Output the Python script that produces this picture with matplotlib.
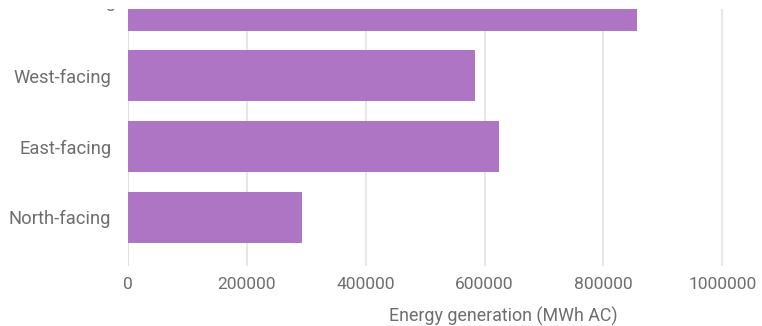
import matplotlib.pyplot as plt
from matplotlib.transforms import Bbox, TransformedBbox, blended_transform_factory

categories = ["North-facing", "East-facing", "West-facing", "South-facing"]
generation = [293000, 625000, 584000, 856000]
xticks = [0, 200000, 400000, 600000, 800000, 1000000]

bar_color = "#ae75c4"
text_color = "#6e6e6e"

plt.rcParams["font.family"] = ["Roboto", "DejaVu Sans"]

W, H = 762, 326
fig = plt.figure(figsize=(W / 100, H / 100), dpi=100)
ax = fig.add_axes([128 / W, 1 - 266 / H, 1 - 128 / W, (266 - 9) / H])

pos = list(range(len(categories)))
ax.barh(pos, generation, height=0.72, color=bar_color, zorder=3)

ax.set_xlim(0, 1067000)
ax.set_ylim(-0.69, 2.946)

ax.set_xticks(xticks)
ax.set_xticklabels([str(v) for v in xticks])
ax.set_yticks(pos[:-1])
ax.set_yticklabels(categories[:-1])
ax.tick_params(axis="both", length=0, labelsize=13.2, labelcolor=text_color)
ax.tick_params(axis="x", labelsize=12.5, pad=8)
ax.tick_params(axis="y", pad=12)

# top category sits above the visible area: draw its label by hand and clip it
trans = blended_transform_factory(ax.transAxes, ax.transData)
top_label = ax.text(-12 / (W - 128), pos[-1] + 0.04, categories[-1], transform=trans,
                    ha="right", va="center", fontsize=13.2, color=text_color)
top_label.set_clip_box(TransformedBbox(Bbox([[0, 0], [1, 1 - 9 / H]]), fig.transFigure))
top_label.set_clip_on(True)

ax.grid(axis="x", color="#e4e4e4", linewidth=1.3, zorder=0)
ax.axvline(0, color="#bdbdbd", linewidth=1.3, zorder=1)
for s in ax.spines.values():
    s.set_visible(False)

ax.set_xlabel("Energy generation (MWh AC)", fontsize=12.9, color=text_color)
ax.xaxis.set_label_coords((503 - 128) / (W - 128), -(316 - 266) / (266 - 9))
ax.xaxis.label.set_va("center")

fig.savefig("out.png", dpi=100)
